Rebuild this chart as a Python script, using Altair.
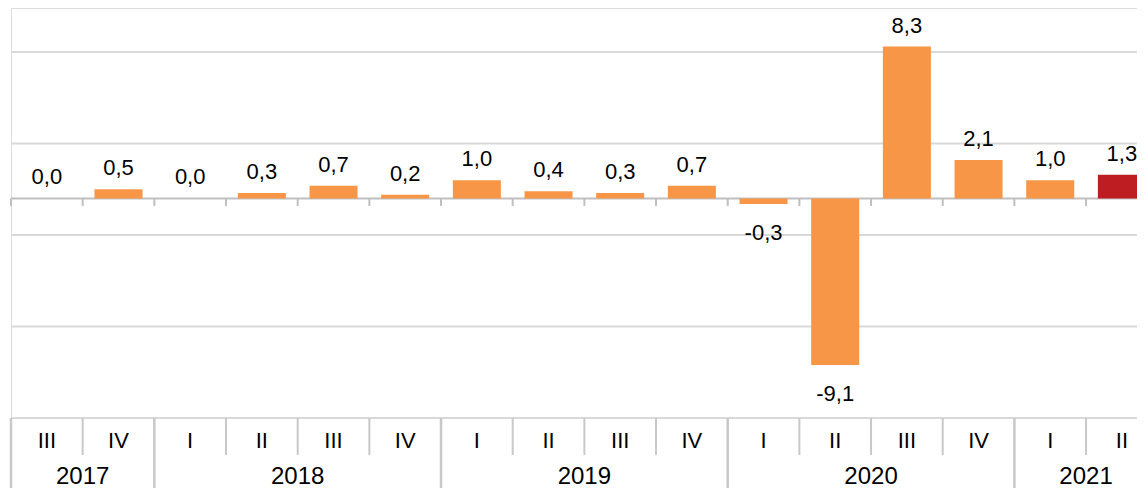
import altair as alt
import pandas as pd

# ---- data ----
years = ["2017", "2017",
         "2018", "2018", "2018", "2018",
         "2019", "2019", "2019", "2019",
         "2020", "2020", "2020", "2020",
         "2021", "2021"]
quarters = ["III", "IV", "I", "II", "III", "IV", "I", "II", "III", "IV",
            "I", "II", "III", "IV", "I", "II"]
values = [0.0, 0.5, 0.0, 0.3, 0.7, 0.2, 1.0, 0.4, 0.3, 0.7,
          -0.3, -9.1, 8.3, 2.1, 1.0, 1.3]
grid_values = [-12, -7, -2, 3, 8]

ORANGE = "#F79646"
RED = "#BE1E22"
GRID = "#d9d9d9"
AXIS = "#bfbfbf"
SEP = "#c8c8c8"
FONT = "Liberation Sans"

n = len(values)
df = pd.DataFrame({
    "idx": list(range(n)),
    "year": years,
    "quarter": quarters,
    "value": values,
    "kind": ["base"] * (n - 1) + ["latest"],
})
df["yearstart"] = [i == 0 or years[i] != years[i - 1] for i in range(n)]

W = 1126
H = 410
STEP = 71.67
xscale = alt.Scale(domain=[0, W / STEP], nice=False, zero=False)
yscale = alt.Scale(domain=[-12, 10.41], nice=False, zero=False)

base = alt.Chart(df)

grid = alt.Chart(pd.DataFrame({"g": grid_values})).mark_rule(
    color=GRID, strokeWidth=2
).encode(
    y=alt.Y("g:Q", scale=yscale, axis=None),
    x=alt.value(0),
    x2=alt.value(W),
)

bars = base.transform_calculate(
    x0="datum.idx + 0.165", x1="datum.idx + 0.835"
).mark_bar().encode(
    x=alt.X("x0:Q", scale=xscale, axis=None),
    x2="x1:Q",
    y=alt.Y("value:Q", scale=yscale, axis=None),
    y2=alt.datum(0),
    color=alt.Color("kind:N", scale=alt.Scale(domain=["base", "latest"], range=[ORANGE, RED]), legend=None),
)

zero = alt.Chart(pd.DataFrame({"z": [0]})).mark_rule(color=AXIS, strokeWidth=2).encode(
    y=alt.Y("z:Q", scale=yscale, axis=None),
    x=alt.value(0),
    x2=alt.value(W),
)

ticks = base.transform_calculate(zz="0").mark_rule(color=AXIS, strokeWidth=2, y2Offset=7.5).encode(
    x=alt.X("idx:Q", scale=xscale, axis=None),
    y=alt.Y("zz:Q", scale=yscale, axis=None),
    y2="zz:Q",
)

label_expr = "replace(replace(format(datum.value, '.1f'), '.', ','), '\u2212', '-')"

pos_labels = base.transform_filter("datum.value >= 0").transform_calculate(
    label=label_expr, xc="datum.idx + 0.5"
).mark_text(font=FONT, fontSize=22, color="#000000", baseline="alphabetic", dy=-14).encode(
    x=alt.X("xc:Q", scale=xscale, axis=None),
    y=alt.Y("value:Q", scale=yscale, axis=None),
    text="label:N",
)

neg_labels = base.transform_filter("datum.value < 0").transform_calculate(
    label=label_expr, xc="datum.idx + 0.5"
).mark_text(font=FONT, fontSize=22, color="#000000", baseline="alphabetic", dy=36).encode(
    x=alt.X("xc:Q", scale=xscale, axis=None),
    y=alt.Y("value:Q", scale=yscale, axis=None),
    text="label:N",
)

q_sep = base.transform_filter("!datum.yearstart").mark_rule(color=SEP, strokeWidth=2).encode(
    x=alt.X("idx:Q", scale=xscale, axis=None),
    y=alt.value(H),
    y2=alt.value(447),
)

y_sep = base.transform_filter("datum.yearstart").mark_rule(color=SEP, strokeWidth=2.5).encode(
    x=alt.X("idx:Q", scale=xscale, axis=None),
    y=alt.value(H),
    y2=alt.value(H + 80),
)

q_labels = base.transform_calculate(xc="datum.idx + 0.5").mark_text(
    font=FONT, fontSize=22, color="#000000", baseline="middle"
).encode(
    x=alt.X("xc:Q", scale=xscale, axis=None),
    y=alt.value(433),
    text="quarter:N",
)

y_labels = base.transform_aggregate(
    lo="min(idx)", hi="max(idx)", groupby=["year"]
).transform_calculate(xc="(datum.lo + datum.hi + 1) / 2").mark_text(
    font=FONT, fontSize=24, color="#000000", baseline="middle"
).encode(
    x=alt.X("xc:Q", scale=xscale, axis=None),
    y=alt.value(469),
    text="year:N",
)

chart = alt.layer(
    grid, zero, bars, ticks, pos_labels, neg_labels, q_sep, y_sep, q_labels, y_labels
).properties(
    width=W,
    height=H,
    autosize=alt.AutoSizeParams(type="none"),
    padding={"left": 3, "top": 0, "right": 0, "bottom": 70},
).configure_view(stroke=None).configure(background="white")

chart.save("out.html", embed_options={"renderer": "svg", "actions": False})
